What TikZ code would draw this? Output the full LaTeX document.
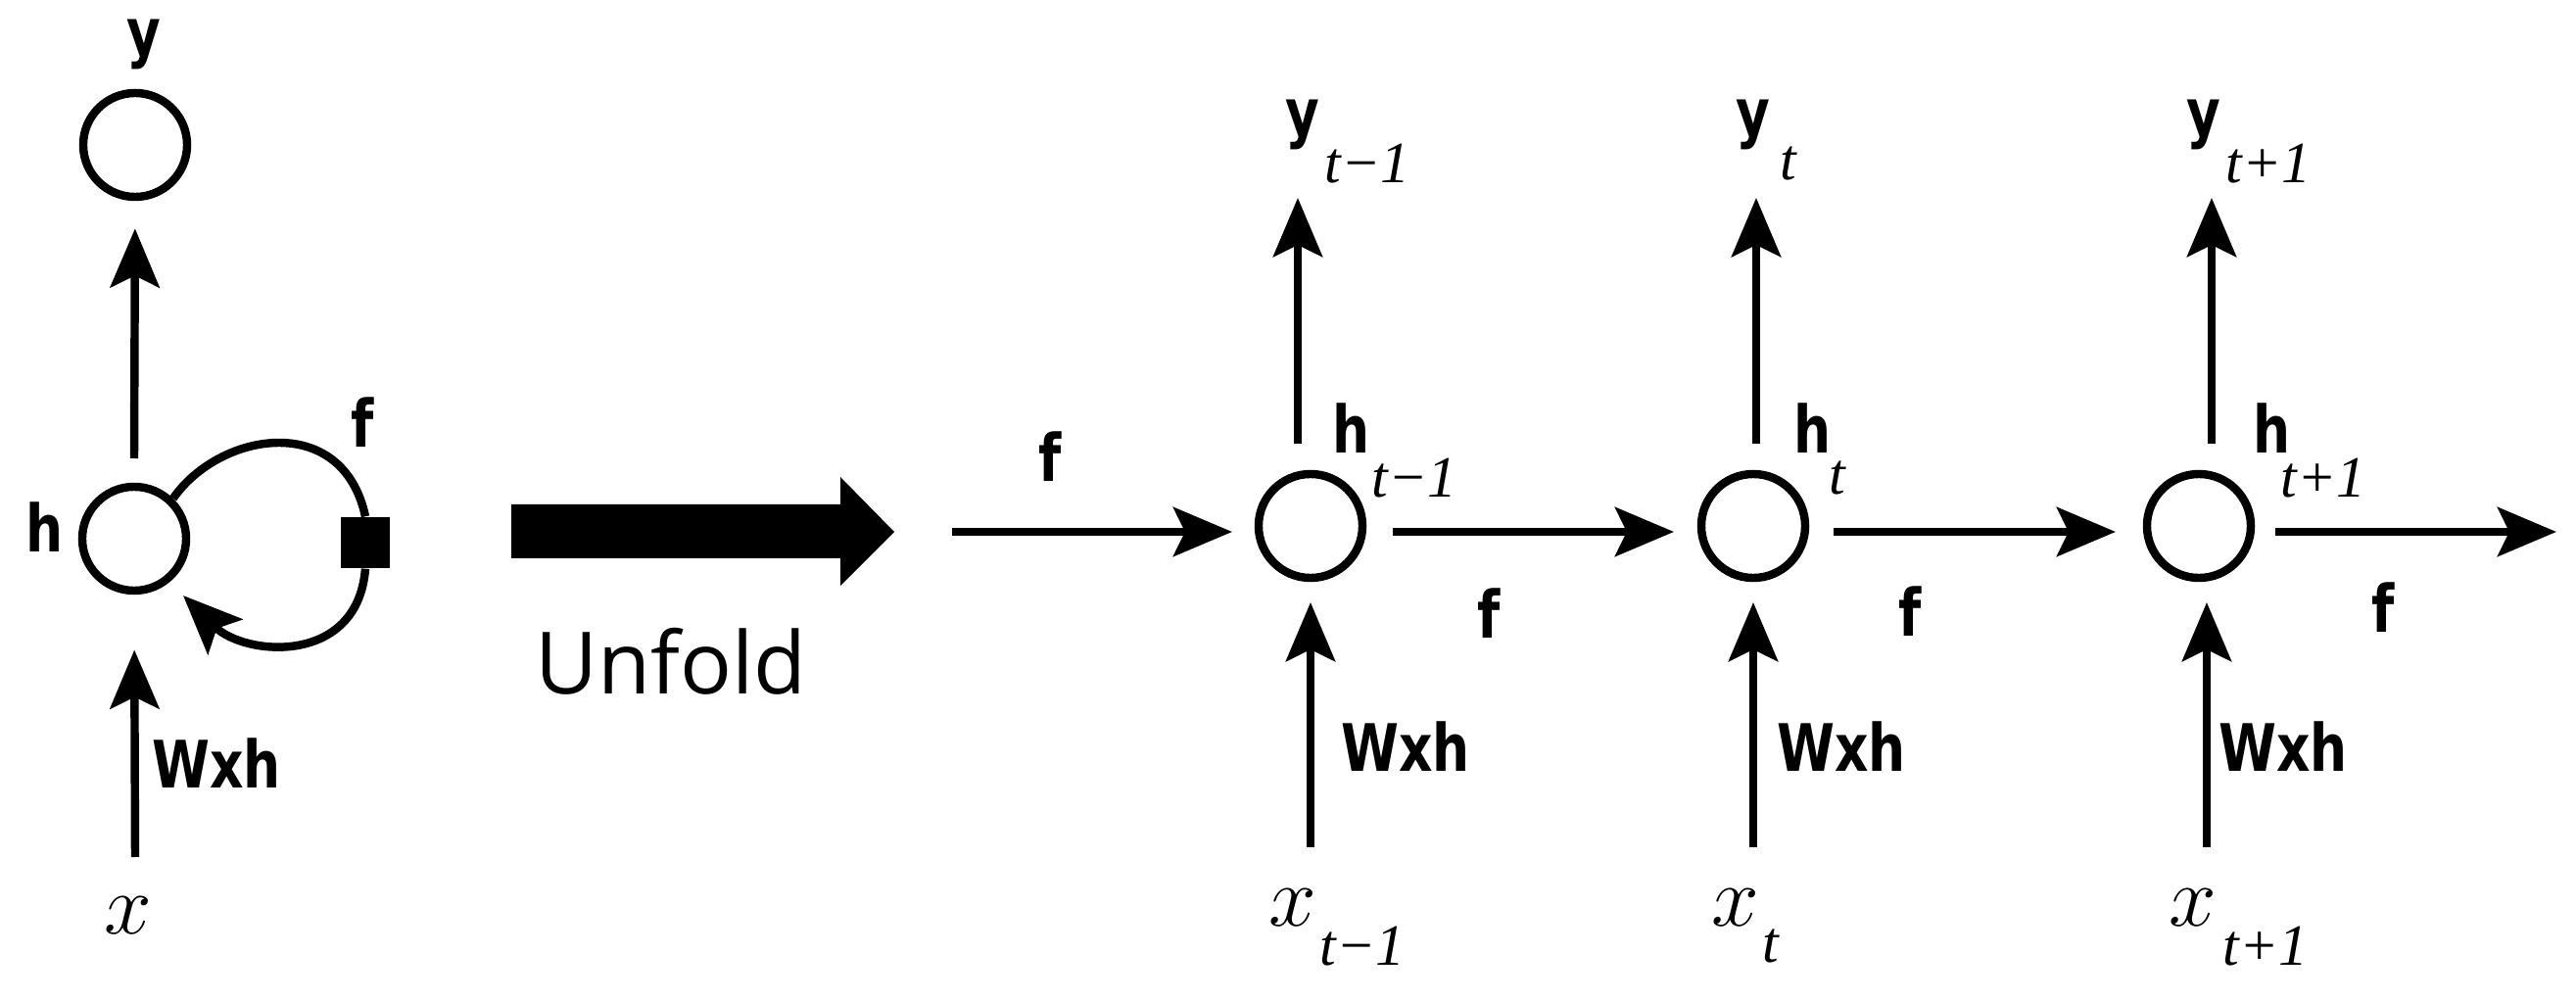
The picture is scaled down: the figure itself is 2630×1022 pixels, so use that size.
\documentclass[tikz,border=0pt]{standalone}
\usepackage{fontspec}
\usetikzlibrary{arrows.meta,calc}
\newfontfamily\lblfont[FakeStretch=0.8]{DejaVu Sans}
\newfontfamily\subfont{Liberation Serif}
\newfontfamily\unffont{Open Sans}
\tikzset{
  px/.style={x=0.01cm,y=-0.01cm},
  cell/.style={circle,draw,line width=2.4pt,minimum size=1.06cm,inner sep=0pt},
  conn/.style={line width=2.4pt,-{Stealth[length=0.6cm,width=0.5cm,inset=0.12cm]}},
  bl/.style={font=\lblfont\bfseries\fontsize{19}{19}\selectfont,inner sep=0pt},
  sub/.style={font=\subfont\itshape\fontsize{17}{17}\selectfont,inner sep=0pt,anchor=west},
  xl/.style={font=\fontsize{28}{28}\selectfont,inner sep=0pt}
}
\begin{document}
\begin{tikzpicture}[px]
\useasboundingbox (0,0) rectangle (2630,1022);
% ---------- folded RNN ----------
\node[bl] (ly) at (147,45) {y};
\node[cell] (yt) at (138,148) {};
\node[cell] (h) at (137,550) {};
\node[bl] (lh) at (46,538) {h};
\node[fill,minimum width=0.50cm,minimum height=0.52cm,inner sep=0pt] (sq) at (373,554) {};
\node[bl] (lf) at (370,431) {f};
\node[bl] (lw) at (221,779) {Wxh};
\node[xl] (lx) at (131,935) {$x$};
\coordinate (hs) at (137,468);
\coordinate (xs) at (138,875);
\coordinate (lp) at (187,608);
\draw[conn,shorten >=8] (hs) -- (yt.south);
\draw[conn,shorten >=16] (xs) -- (h.south);
\draw[line width=2.4pt] (h.46) .. controls (225,440) and (350,420) .. (sq.north);
\draw[conn] (sq.south) .. controls (365,680) and (250,670) .. (lp);
% ---------- unfold arrow ----------
\fill (522,515) -- (858,515) -- (858,487) -- (913,543) -- (858,598) -- (858,570) -- (522,570) -- cycle;
\node[font=\unffont\fontsize{25}{25}\selectfont,inner sep=0pt] (unf) at (685,675) {Unfold};
% ---------- unfolded cells ----------
\foreach \X/\ux/\bx/\ylx/\ysx/\hx/\hsx/\xlx/\xsx/\wx/\ys [count=\k] in
  {1338/1325/1338/1330/1352/1380/1400/1320/1347/1435/t−1,
   1790/1793/1790/1790/1817/1851/1867/1772/1799/1880/t,
   2245/2258/2253/2250/2272/2319/2328/2239/2269/2331/t+1}{
  \node[cell] (c\k) at (\X,537) {};
  \node[bl] (yl\k) at (\ylx,127) {y};
  \node[sub] (ysub\k) at (\ysx,167) {\ys};
  \node[bl] (hl\k) at (\hx,437) {h};
  \node[sub] (hsub\k) at (\hsx,488) {\ys};
  \node[xl] (xl\k) at (\xlx,927) {$x$};
  \node[sub] (xsub\k) at (\xsx,966) {\ys};
  \node[bl] (w\k) at (\wx,762) {Wxh};
  \coordinate (ct\k) at (\ux,453);
  \coordinate (ytip\k) at (\ux,202);
  \coordinate (xb\k) at (\bx,865);
  \coordinate (xtip\k) at (\bx,615);
  \draw[conn] (ct\k) -- (ytip\k);
  \draw[conn] (xb\k) -- (xtip\k);
}
\coordinate (in) at (972,543);
\coordinate (in1) at (1258,543);
\coordinate (o1) at (1422,543);
\coordinate (in2) at (1709,543);
\coordinate (o2) at (1872,543);
\coordinate (in3) at (2160,543);
\coordinate (o3) at (2323,543);
\coordinate (out) at (2610,543);
\draw[conn] (in) -- (in1);
\draw[conn] (o1) -- (in2);
\draw[conn] (o2) -- (in3);
\draw[conn] (o3) -- (out);
\node[bl] (f0) at (1072,466) {f};
\node[bl] (f1) at (1520,626) {f};
\node[bl] (f2) at (1950,624) {f};
\node[bl] (f3) at (2433,620) {f};
\end{tikzpicture}
\end{document}
